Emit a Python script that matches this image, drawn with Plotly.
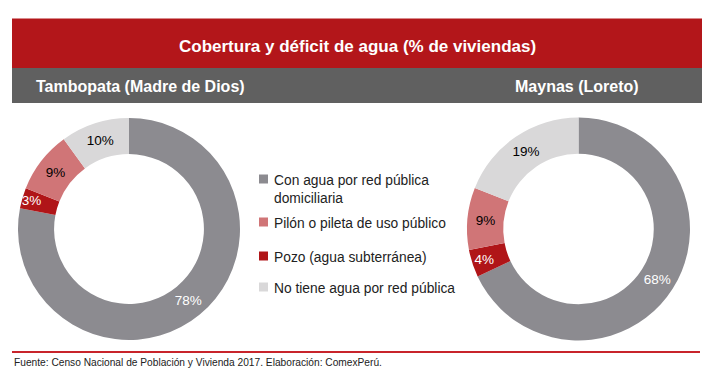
import plotly.graph_objects as go

W, H = 714, 380

categories = ["Con agua por red pública<br>domiciliaria", "Pozo (agua subterránea)",
              "Pilón o pileta de uso público", "No tiene agua por red pública"]
legend_order = [0, 2, 1, 3]
tambopata = [78, 3, 9, 10]
maynas = [68, 4, 9, 19]
colors = ["#8C8B90", "#B01518", "#D07577", "#D9D8D9"]
text_colors = ["white", "white", "black", "black"]

title = "Cobertura y déficit de agua (% de viviendas)"
sub_left = "Tambopata (Madre de Dios)"
sub_right = "Maynas (Loreto)"
source = "Fuente: Censo Nacional de Población y Vivienda 2017. Elaboración: ComexPerú."

FONT = "Arial, Liberation Sans, sans-serif"

def px_x(x):
    return x / W

def px_y(y):
    return 1 - y / H

fig = go.Figure()

def add_pie(vals, cx, cy, r):
    fig.add_trace(go.Pie(
        labels=categories, values=vals, sort=False, direction="clockwise",
        rotation=0, hole=0.675,
        marker=dict(colors=colors, line=dict(width=0)),
        texttemplate="%{value}%", textposition="inside",
        insidetextorientation="horizontal",
        textfont=dict(family=FONT, size=13.5, color=text_colors),
        domain=dict(x=[px_x(cx - r), px_x(cx + r)], y=[px_y(cy + r), px_y(cy - r)]),
        showlegend=False, hoverinfo="label+percent",
    ))

add_pie(tambopata, 129, 229, 111)
add_pie(maynas, 578.5, 229, 111.5)

shapes = []
annotations = []
# Title band
shapes.append(dict(type="rect", xref="paper", yref="paper", x0=px_x(12), x1=px_x(702),
                   y0=px_y(68), y1=px_y(18.5), fillcolor="#B3161A", line=dict(width=0), layer="below"))
shapes.append(dict(type="rect", xref="paper", yref="paper", x0=px_x(12), x1=px_x(702),
                   y0=px_y(103), y1=px_y(68), fillcolor="#606060", line=dict(width=0), layer="below"))
# bottom rule
shapes.append(dict(type="line", xref="paper", yref="paper", x0=px_x(12), x1=px_x(700),
                   y0=px_y(352), y1=px_y(352), line=dict(color="#C8242B", width=2)))

annotations.append(dict(text="<b>" + title + "</b>", x=px_x(357), y=px_y(46), xref="paper", yref="paper",
                        showarrow=False, font=dict(family=FONT, size=17, color="white"),
                        xanchor="center", yanchor="middle"))
annotations.append(dict(text="<b>" + sub_left + "</b>", x=px_x(34), y=px_y(87), xref="paper", yref="paper",
                        showarrow=False, font=dict(family=FONT, size=16, color="white"),
                        xanchor="left", yanchor="middle"))
annotations.append(dict(text="<b>" + sub_right + "</b>", x=px_x(641), y=px_y(87), xref="paper", yref="paper",
                        showarrow=False, font=dict(family=FONT, size=16, color="white"),
                        xanchor="right", yanchor="middle"))
annotations.append(dict(text=source, x=px_x(12), y=px_y(362), xref="paper", yref="paper",
                        showarrow=False, font=dict(family=FONT, size=10.2, color="#222222"),
                        xanchor="left", yanchor="middle"))

# manual legend
leg_y = [179, 222, 256, 287]
for k, idx in enumerate(legend_order):
    y = leg_y[k]
    shapes.append(dict(type="rect", xref="paper", yref="paper",
                       x0=px_x(259), x1=px_x(268), y0=px_y(y + 4.5), y1=px_y(y - 4.5),
                       fillcolor=colors[idx], line=dict(width=0)))
    annotations.append(dict(text=categories[idx], x=px_x(272), y=px_y(y - 8), xref="paper", yref="paper",
                            showarrow=False, font=dict(family=FONT, size=13.8, color="#222222"),
                            xanchor="left", yanchor="top", align="left"))

fig.update_layout(
    width=W, height=H, margin=dict(l=0, r=0, t=0, b=0),
    paper_bgcolor="white", plot_bgcolor="white",
    shapes=shapes, annotations=annotations, showlegend=False,
    uniformtext=dict(minsize=13.5, mode="show"),
)

fig.write_html("out.html", config={"displayModeBar": False},
               post_script="document.body.style.margin='0';document.body.style.padding='0';")
